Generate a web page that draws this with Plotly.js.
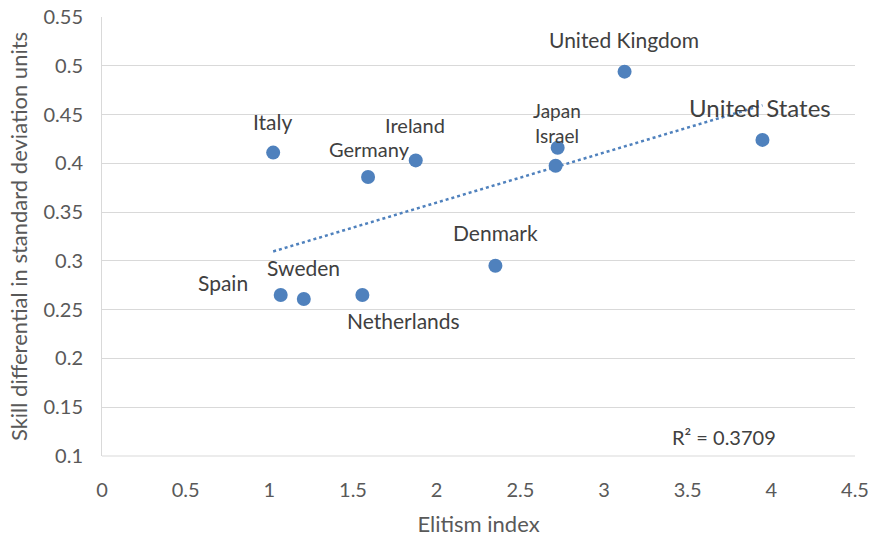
<!DOCTYPE html>
<html>
<head>
<meta charset="utf-8">
<script src="https://cdn.plot.ly/plotly-3.0.1.min.js"></script>
<style>html,body{margin:0;padding:0;background:#fff;}#chart{width:870px;height:543px;}</style>
</head>
<body>
<div id="chart"></div>
<script>
// ---- data ----
var countries = ["Italy","Spain","Sweden","Netherlands","Germany","Ireland","Denmark","Israel","Japan","United Kingdom","United States"];
var elitism   = [1.023, 1.068, 1.206, 1.556, 1.590, 1.875, 2.351, 2.711, 2.723, 3.123, 3.947];
var skillDiff = [0.411, 0.265, 0.261, 0.265, 0.386, 0.403, 0.295, 0.3975, 0.416, 0.494, 0.424];
var rSquaredText = "R² = 0.3709";
var xTitle = "Elitism index";
var yTitle = "Skill differential in standard deviation units";

// ---- label placement (pixel offsets, styling) ----
var labelStyle = {
  "Italy":          {dx: -1, dy: 31, size: 21},
  "Spain":          {dx: -58, dy: 13, size: 21},
  "Sweden":         {dx: 0, dy: 31, size: 21},
  "Netherlands":    {dx: 41, dy: -25, size: 21},
  "Germany":        {dx: 1, dy: 28, size: 20},
  "Ireland":        {dx: -1, dy: 35, size: 20},
  "Denmark":        {dx: 0, dy: 33, size: 21},
  "Israel":         {dx: 1, dy: 30, size: 19},
  "Japan":          {dx: -1, dy: 37, size: 19},
  "United Kingdom": {dx: -1, dy: 32, size: 21},
  "United States":  {dx: -2, dy: 32, size: 24}
};

// ---- linear trend (least squares from data) ----
var n = elitism.length, mx = 0, my = 0;
for (var i = 0; i < n; i++) { mx += elitism[i]; my += skillDiff[i]; }
mx /= n; my /= n;
var sxy = 0, sxx = 0;
for (var i = 0; i < n; i++) { sxy += (elitism[i]-mx)*(skillDiff[i]-my); sxx += (elitism[i]-mx)*(elitism[i]-mx); }
var slope = sxy / sxx, icpt = my - slope * mx;
var xmin = Math.min.apply(null, elitism), xmax = Math.max.apply(null, elitism);
var trendX = [xmin, xmax];
var trendY = [icpt + slope * xmin, icpt + slope * xmax];

var blue = "#4F81BD";
var font = "Lato, 'Open Sans', sans-serif";
var txt = "#404040";
var axc = "#595959";

var traces = [
  {x: trendX, y: trendY, mode: "lines", type: "scatter", line: {color: blue, width: 2.5, dash: "dot"}, hoverinfo: "skip"},
  {x: elitism, y: skillDiff, mode: "markers", type: "scatter", marker: {color: blue, size: 14}, text: countries}
];

var annotations = countries.map(function (c, i) {
  var s = labelStyle[c];
  return {x: elitism[i], y: skillDiff[i], xref: "x", yref: "y", text: c, showarrow: false,
          xanchor: "center", yanchor: "middle",
          xshift: s.dx, yshift: s.dy, font: {family: font, size: s.size, color: txt}};
});
annotations.push({x: 0.826, y: 0.044, xref: "paper", yref: "paper", text: rSquaredText, showarrow: false,
  xanchor: "center", yanchor: "middle",
  font: {family: font, size: 20, color: txt}});

var layout = {
  width: 870, height: 543,
  margin: {l: 101.5, r: 15, t: 16.7, b: 86.5},
  paper_bgcolor: "#fff", plot_bgcolor: "#fff",
  showlegend: false,
  font: {family: font, color: axc, size: 20},
  xaxis: {range: [0, 4.5], dtick: 0.5, tick0: 0, showgrid: false, zeroline: false,
          showline: false, ticks: "", ticklen: 0, ticklabelstandoff: 20,
          tickfont: {family: font, size: 20, color: axc},
          title: {text: xTitle, font: {family: font, size: 22, color: axc}, standoff: 16}},
  yaxis: {range: [0.1, 0.55], dtick: 0.05, tick0: 0.1, showgrid: true, gridcolor: "#D9D9D9", gridwidth: 1,
          zeroline: false, showline: true, linecolor: "#D9D9D9", linewidth: 1, ticks: "", ticklabelstandoff: 14,
          tickfont: {family: font, size: 20, color: axc},
          title: {text: yTitle, font: {family: font, size: 22, color: axc}, standoff: 9}},
  shapes: [{type: "line", xref: "paper", yref: "paper", x0: 0, x1: 1, y0: 0, y1: 0, line: {color: "#D9D9D9", width: 1}}],
  annotations: annotations
};

Plotly.newPlot("chart", traces, layout, {displayModeBar: false, staticPlot: true});
</script>
</body>
</html>
